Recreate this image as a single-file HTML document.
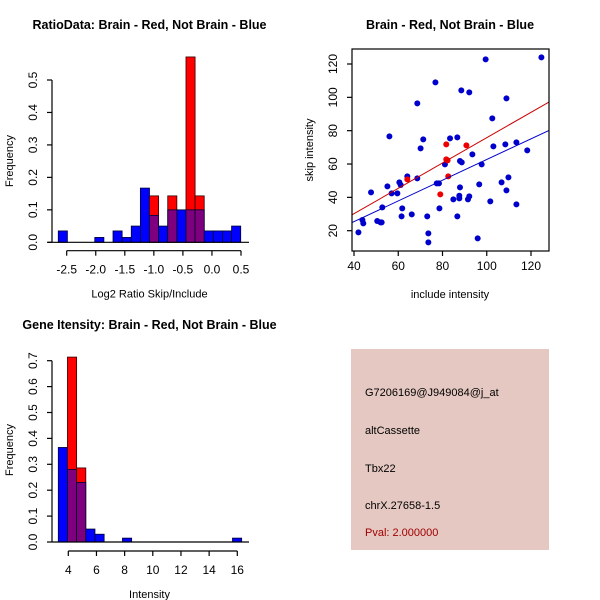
<!DOCTYPE html>
<html><head><meta charset="utf-8"><style>
body{margin:0;background:#fff;}
svg{display:block;font-family:"Liberation Sans",sans-serif;}
</style></head><body>
<svg id="chart" width="600" height="600" viewBox="0 0 600 600">
<g id="p1"></g>
<g id="p2"></g>
<g id="p3"></g>
<g id="p4">
<rect x="351" y="349" width="198" height="201" fill="#e5c8c2"/>
<g font-size="11" fill="#000">
<text x="365" y="396">G7206169@J949084@j_at</text>
<text x="365" y="434">altCassette</text>
<text x="365" y="472">Tbx22</text>
<text x="365" y="509">chrX.27658-1.5</text>
<text x="365" y="536" fill="#a00000">Pval: 2.000000</text>
</g></g>
</svg>
<script>
// ---- Panel 1 data ----
const ratioBinStart = -2.645;
const ratioBinWidth = 0.157;
const ratioBlue = [0.035,0,0,0,0.015,0,0.035,0.015,0.05,0.167,0.083,0.05,0.1,0.1,0.1,0.1,0.035,0.035,0.035,0.05];
const ratioRed  = [0,0,0,0,0,0,0,0,0,0,0.143,0,0.143,0,0.571,0.143,0,0,0,0];
const ratioXTicks = [-2.5,-2.0,-1.5,-1.0,-0.5,0.0,0.5];
const ratioXTickLabels = ["-2.5","-2.0","-1.5","-1.0","-0.5","0.0","0.5"];
const ratioYTicks = [0,0.1,0.2,0.3,0.4,0.5];
const ratioYTickLabels = ["0.0","0.1","0.2","0.3","0.4","0.5"];
// ---- Panel 2 data ----
const blueX = [42,43.8,44.2,47.7,50.5,52,52.5,52.8,55.1,56,57,59.6,60.5,61.1,61.5,61.8,64.1,66.1,68.6,68.6,70.1,71.3,73.1,73.6,73.6,76.8,77.4,78.4,78.6,81.1,83.4,84.9,86.7,86.7,87.6,87.6,87.9,87.9,88.7,88.5,92.1,91.5,92.1,93.5,95.9,96.6,97.7,99.5,101.6,102.5,103,106.7,108.4,108.9,108.9,109.8,113.4,113.4,118.3,124.7];
const blueY = [19,26.4,24.4,43,25.8,25,25,34,46.6,76.6,42.4,42.4,49,47.4,28.6,33.4,52.6,29.8,51.4,96.4,69.4,74.8,28.6,18.4,13,109,48.4,48.4,33.4,59.8,75.4,38.8,76,28.6,39.4,41,46,61.8,61,104.2,103,38.8,40.6,65.8,15.4,47.8,59.8,122.8,37.6,87.4,70.6,49,71.8,99.4,44.2,52,35.8,73,68.2,124];
const redX = [64.1,79,81.7,81.7,82.3,82.6,90.8];
const redY = [50.8,41.8,71.8,62.8,62.2,52.6,71.2];
const redFit = [-0.2,0.760];   // intercept, slope
const blueFit = [0.6,0.621];
const scXTicks = [40,60,80,100,120];
const scYTicks = [20,40,60,80,100,120];
// ---- Panel 3 data ----
const intBinStart = 3.29;
const intBinWidth = 0.651;
const intBlue = [0.365,0.28,0.23,0.05,0.03,0,0,0.015,0,0,0,0,0,0,0,0,0,0,0,0.015];
const intRed  = [0,0.714,0.286,0,0,0,0,0,0,0,0,0,0,0,0,0,0,0,0,0];
const intXTicks = [4,6,8,10,12,14,16];
const intYTicks = [0,0.1,0.2,0.3,0.4,0.5,0.6,0.7];
const intYTickLabels = ["0.0","0.1","0.2","0.3","0.4","0.5","0.6","0.7"];

const NS="http://www.w3.org/2000/svg";
function mk(parent,tag,attrs,text){const e=document.createElementNS(NS,tag);for(const k in attrs)e.setAttribute(k,attrs[k]);if(text!==undefined)e.textContent=text;parent.appendChild(e);return e;}
function lin(d0,d1,r0,r1){return v=>r0+(v-d0)*(r1-r0)/(d1-d0);}

function hist(g,opt){
  const X=opt.x,Y=opt.y;
  for(let i=0;i<opt.blue.length;i++){
    const x0=X(opt.start+i*opt.w),x1=X(opt.start+(i+1)*opt.w);
    const b=opt.blue[i],r=opt.red[i];
    if(r>0){const e=mk(g,'rect',{x:x0,y:Y(r),width:x1-x0,height:Y(0)-Y(r),fill:'#ff0000',stroke:'#330000','stroke-width':0.8});
      
      }
    if(b>0){const e=mk(g,'rect',{x:x0,y:Y(b),width:x1-x0,height:Y(0)-Y(b),fill:r>0?'#7f007f':'#0000ff',stroke:'#000033','stroke-width':0.8});
      
      }
  }
  const base=mk(g,'line',{x1:opt.ax0,x2:opt.ax1,y1:Y(0),y2:Y(0),stroke:'#000','stroke-width':1.2});
  
  
  // x axis
  const xa=mk(g,'g',{});
  
  
  const ty=opt.xAxisY;
  mk(xa,'line',{x1:X(opt.xt[0]),x2:X(opt.xt[opt.xt.length-1]),y1:ty,y2:ty,stroke:'#000','stroke-width':1.2});
  opt.xt.forEach((t,i)=>{mk(xa,'line',{x1:X(t),x2:X(t),y1:ty,y2:ty+5,stroke:'#000','stroke-width':1.2});
    mk(xa,'text',{x:X(t),y:ty+23,'font-size':12,'text-anchor':'middle'},opt.xl[i]);});
  // y axis
  const ya=mk(g,'g',{});
  
  
  mk(ya,'line',{x1:52,x2:52,y1:Y(opt.yt[0]),y2:Y(opt.yt[opt.yt.length-1]),stroke:'#000','stroke-width':1.2});
  opt.yt.forEach((t,i)=>{mk(ya,'line',{x1:47,x2:52,y1:Y(t),y2:Y(t),stroke:'#000','stroke-width':1.2});
    mk(ya,'text',{x:37,y:Y(t),'font-size':12,'text-anchor':'middle',transform:`rotate(-90 37 ${Y(t)})`},opt.yl[i]);});
  const yt=mk(g,'text',{x:13,y:opt.yLabelY,'font-size':11,'text-anchor':'middle',transform:`rotate(-90 13 ${opt.yLabelY})`},'Frequency');
  
  
  const xt=mk(g,'text',{x:opt.xLabelX,y:ty+47,'font-size':11,'text-anchor':'middle'},opt.xLabel);
  
  
  const tt=mk(g,'text',{x:149.5,y:opt.titleY,'font-size':12.5,'font-weight':'bold','text-anchor':'middle'},opt.title);
  
  
}

// Panel 1
hist(document.getElementById('p1'),{
  x:lin(-2.5,0.5,66.7,241),y:lin(0,0.5,242.3,80),
  start:ratioBinStart,w:ratioBinWidth,blue:ratioBlue,red:ratioRed,
  ax0:48,ax1:249,xAxisY:250.7,xt:ratioXTicks,xl:ratioXTickLabels,yt:ratioYTicks,yl:ratioYTickLabels,
  yLabelY:161,xLabelX:149.5,xLabel:'Log2 Ratio Skip/Include',title:'RatioData: Brain - Red, Not Brain - Blue',titleY:29});

// Panel 3
hist(document.getElementById('p3'),{
  x:lin(4,16,68.3,237.3),y:lin(0,0.7,542,360.7),
  start:intBinStart,w:intBinWidth,blue:intBlue,red:intRed,
  ax0:52,ax1:249,xAxisY:551,xt:intXTicks,xl:intXTicks.map(String),yt:intYTicks,yl:intYTickLabels,
  yLabelY:450,xLabelX:149.5,xLabel:'Intensity',title:'Gene Itensity: Brain - Red, Not Brain - Blue',titleY:329});

// Panel 2
(function(){
  const g=document.getElementById('p2');
  const X=lin(40,120,354,531),Y=lin(20,120,230.7,64);
  const L=352,R=549,T=49,B=251;
  const tt=mk(g,'text',{x:450,y:29,'font-size':12.5,'font-weight':'bold','text-anchor':'middle'},'Brain - Red, Not Brain - Blue');
  
  
  const cp=mk(g,'clipPath',{id:'cp'});mk(cp,'rect',{x:L,y:T,width:R-L,height:B-T});
  const pts=mk(g,'g',{'clip-path':'url(#cp)'});
  blueX.forEach((v,i)=>{const c=mk(pts,'circle',{cx:X(v),cy:Y(blueY[i]),r:3,fill:'#0000cc'});
    
    });
  redX.forEach((v,i)=>{const c=mk(pts,'circle',{cx:X(v),cy:Y(redY[i]),r:3,fill:'#ee0000'});
    
    });
  const xa=X.inv||null;
  const d0=40+(L-354)/2.2125,d1=40+(R-354)/2.2125;
  const rl=mk(pts,'line',{x1:L,y1:Y(redFit[0]+redFit[1]*d0),x2:R,y2:Y(redFit[0]+redFit[1]*d1),stroke:'#cc0000','stroke-width':1});
  
  
  const bl=mk(pts,'line',{x1:L,y1:Y(blueFit[0]+blueFit[1]*d0),x2:R,y2:Y(blueFit[0]+blueFit[1]*d1),stroke:'#0000cc','stroke-width':1});
  
  
  const box=mk(g,'rect',{x:L,y:T,width:R-L,height:B-T,fill:'none',stroke:'#000','stroke-width':1.2});
  
  
  const xag=mk(g,'g',{});
  
  
  scXTicks.forEach(t=>{mk(xag,'line',{x1:X(t),x2:X(t),y1:B,y2:B+5,stroke:'#000','stroke-width':1.2});
    mk(xag,'text',{x:X(t),y:B+19,'font-size':12,'text-anchor':'middle'},String(t));});
  const yag=mk(g,'g',{});
  
  
  scYTicks.forEach(t=>{mk(yag,'line',{x1:L-5,x2:L,y1:Y(t),y2:Y(t),stroke:'#000','stroke-width':1.2});
    mk(yag,'text',{x:337,y:Y(t),'font-size':12,'text-anchor':'middle',transform:`rotate(-90 337 ${Y(t)})`},String(t));});
  const xt=mk(g,'text',{x:450,y:298,'font-size':11,'text-anchor':'middle'},'include intensity');
  
  
  const yt=mk(g,'text',{x:313,y:150,'font-size':11,'text-anchor':'middle',transform:'rotate(-90 313 150)'},'skip intensity');
  
  
})();
</script>
</body></html>
